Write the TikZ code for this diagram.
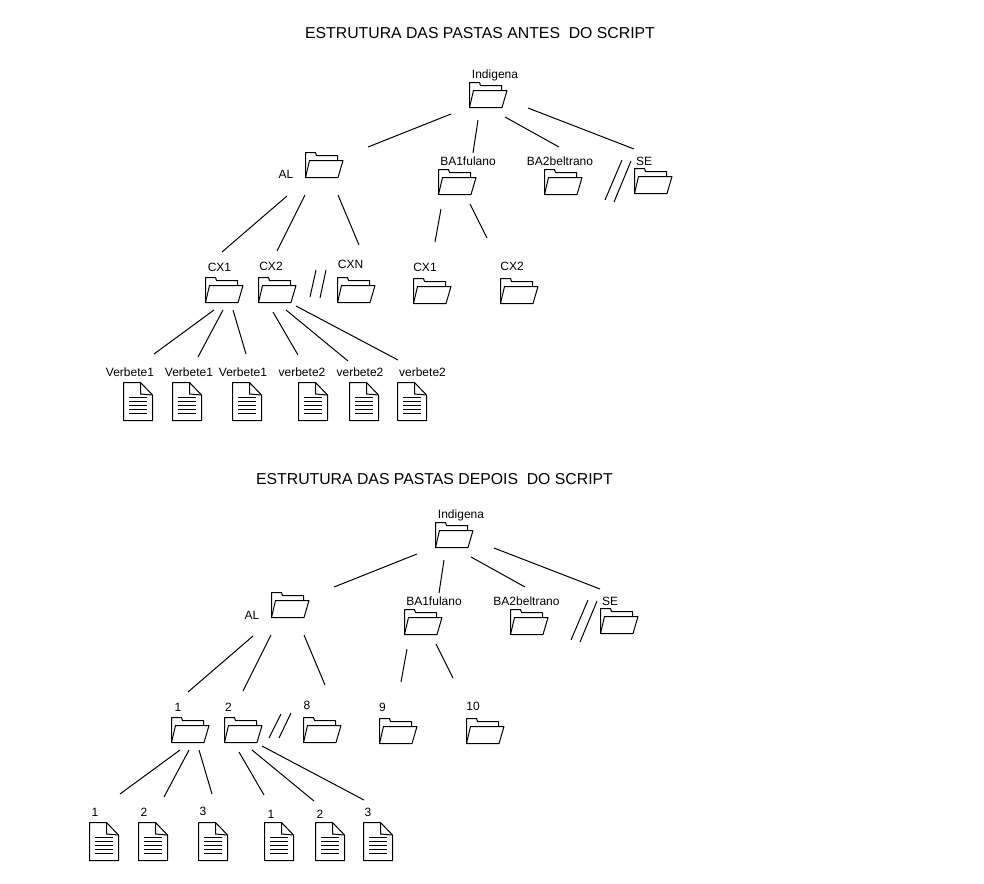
\documentclass[tikz,border=0pt]{standalone}
\usepackage{fontspec}
\setmainfont{Liberation Sans}
\tikzset{
	txt/.style={font=\fontsize{12}{14}\selectfont,inner sep=0pt},
	titletxt/.style={font=\fontsize{15.8}{19}\selectfont,inner sep=0pt},
	folder/.pic={
		\draw[line join=round] (0,25) -- (0,0) -- (10,0) -- (11,3) -- (32,3) -- (32,8);
		\draw[line join=round] (4,8) -- (37.5,8) -- (32.5,25) -- (0,25) -- cycle;
	},
	docfile/.pic={
		\draw[line join=round] (17,0) -- (0,0) -- (0,38) -- (29,38) -- (29,12.5) -- cycle;
		\draw (17,0) -- (17,11.5) -- (29,12.5);
		\foreach \y in {15,19,23,27,31}
			\draw (5.5,\y) -- (23.5,\y);
	}
}
\begin{document}
\begin{tikzpicture}[x=1pt,y=-1pt,line width=1pt]
\useasboundingbox (0,0) rectangle (984,883);
\node[titletxt] (title1) at (480,33.5) {ESTRUTURA DAS PASTAS ANTES\ \ DO SCRIPT};
\node[titletxt] (title2) at (434.5,479.5) {ESTRUTURA DAS PASTAS DEPOIS\ \ DO SCRIPT};
% the second tree is the first one moved down
\foreach \t/\dx/\dy in {a/0/0,b/-34/440}
{
\begin{scope}[shift={(\dx,\dy)}]
	\foreach \n/\x/\y in {root/469.5/82.5,al/305.5/152.5,bai/438.5/169.5,baii/544.5/169.5,se/634.5/168.5,cxi/205.5/277.5,cxii/258.5/277.5,cxn/337.5/277.5,cxo/413.5/278.5,cxp/500.5/278.5}
		\pic (\t\n) at (\x,\y) {folder};
	\foreach \n/\x in {i/123.5,ii/172.5,iii/232.5,iv/298.5,v/349.5,vi/397.5}
		\pic (\t d\n) at (\x,382.5) {docfile};
	\foreach \n/\xa/\ya/\xb/\yb in {1/368/147/451/114,2/473/153/478/120,3/559/147/505/117,4/634/149/528/108,5/605/200/622/160,6/614/202/631/161,7/222/252/287/196,8/277/251/305/195,9/359/245/338/195,10/435/242/441/209,11/487/238/470/204,12/154/354/214/310,13/198/357/223/310,14/246/354/233/310,15/298/355/273/312,16/348/361/286/310,17/398/360/296/306}
	{
		\coordinate (\t l\n s) at (\xa,\ya);
		\coordinate (\t l\n e) at (\xb,\yb);
		\draw (\t l\n s) -- (\t l\n e);
	}
\end{scope}
}
% slashes between the folders
\foreach \n/\xa/\ya/\xb/\yb in {1/310/297/316/270,2/320/298/326/270,3/269/738/281/714,4/279/738/291/713}
{
	\coordinate (s\n s) at (\xa,\ya);
	\coordinate (s\n e) at (\xb,\yb);
	\draw (s\n s) -- (s\n e);
}
% labels
\foreach \n/\x/\y/\l in {t1/495/75.5/Indigena,t2/286/174.5/AL,t3/468/161/BA1fulano,t4/560/161/BA2beltrano,t5/644/161/SE,t6/219.5/267/CX1,t7/271/266/CX2,t8/350.5/264/CXN,t9/425/267/CX1,t10/512/266/CX2,t11/130/372.5/Verbete1,t12/189/372.5/Verbete1,t13/243/372.5/Verbete1,t14/302/372.5/verbete2,t15/360/372.5/verbete2,t16/422.5/372.5/verbete2,u1/461/515.5/Indigena,u2/252/615.5/AL,u3/434/601/BA1fulano,u4/526.5/601/BA2beltrano,u5/610/601/SE,u6/178/707/1,u7/228.5/707/2,u8/307/705/8,u9/382.5/707/9,u10/473/706/10,u11/95/812/1,u12/144/812/2,u13/203/811/3,u14/271/814.5/1,u15/320/814.5/2,u16/368/812.5/3}
	\node[txt] (\n) at (\x,\y) {\l};
\end{tikzpicture}
\end{document}
